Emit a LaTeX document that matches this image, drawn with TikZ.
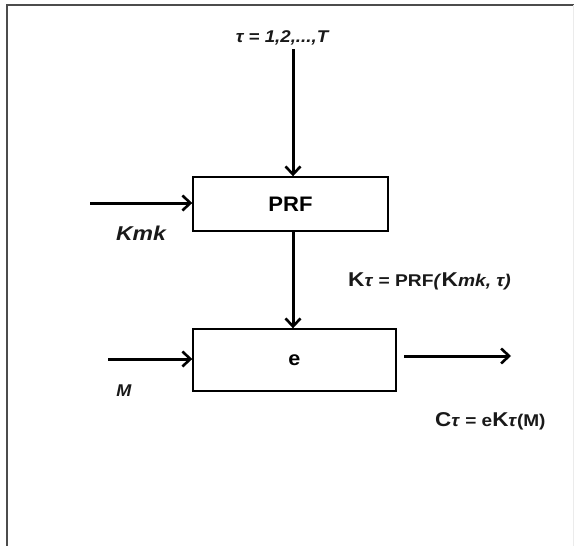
\documentclass[tikz,border=0pt]{standalone}
\usepackage{fontspec}
\setmainfont{Liberation Sans}
\usetikzlibrary{arrows.meta}
\newcommand{\fs}[1]{\fontsize{#1}{#1}\selectfont}
\newcommand{\wide}[2]{\scalebox{#1}[1]{#2}}
\begin{document}
\begin{tikzpicture}[x=1pt,y=-1pt,
  blk/.style={draw, line width=1.4pt, inner sep=0pt},
  arr/.style={line width=3pt, -{Straight Barb[length=8pt,width=15pt,line width=2.6pt]}},
  lbl/.style={inner sep=0pt, text=black!90}]
\useasboundingbox (0,0) rectangle (576,546);
\fill[white] (0,0) rectangle (576,546);
\draw[line width=1.8pt, black!70] (7,546) -- (7,5) -- (574,5);
\draw[line width=0.6pt, black!8] (573,5) -- (573,546);
% blocks
\node[blk, minimum width=195pt, minimum height=54pt, font=\fs{21}\bfseries] (prf) at (290.5,204) {\wide{1.05}{PRF}};
\node[blk, minimum width=203pt, minimum height=62pt, font=\fs{20}\bfseries] (e) at (294.5,360) {\wide{1.08}{e}};
% free ends
\coordinate (ttop) at (293,49);
\coordinate (kin) at (90,203);
\coordinate (min) at (108,359);
\coordinate (os) at (404,356);
\coordinate (oe) at (511,356);
% connectors
\draw[arr] (ttop) -- (ttop |- prf.north);
\draw[arr] (kin) -- (kin -| prf.west);
\draw[arr] (prf.south -| ttop) -- (ttop |- e.north);
\draw[arr] (min) -- (min -| e.west);
\draw[arr] (os) -- (oe);
% labels
\node[lbl, font=\fs{17}\bfseries\itshape] (tl) at (282,38) {\wide{1.1}{τ = 1,2,...,T}};
\node[lbl, font=\fs{20}\bfseries\itshape] (kmk) at (141,233) {\wide{1.15}{Kmk}};
\node[lbl, anchor=west, font=\fs{17}\bfseries] (kt) at (348,281) {\wide{1.13}{{\fs{20}K}\textit{τ} = PRF\textit{(}{\fs{20}K}\textit{mk, τ)}}};
\node[lbl, font=\fs{17}\bfseries\itshape] (m) at (124,391) {\wide{1.06}{M}};
\node[lbl, anchor=west, font=\fs{17}\bfseries] (ct) at (435,421) {\wide{1.12}{{\fs{20}C}\textit{τ} = e{\fs{20}K}\textit{τ}(M)}};
\end{tikzpicture}
\end{document}
